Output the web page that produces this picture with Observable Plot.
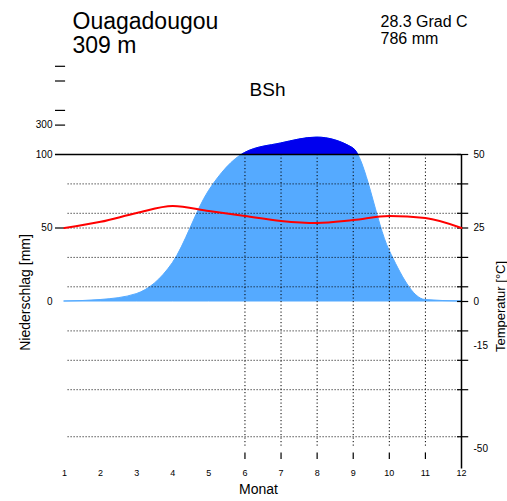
<!DOCTYPE html>
<html><head><meta charset="utf-8">
<script src="https://cdn.jsdelivr.net/npm/d3@7"></script>
<script src="https://cdn.jsdelivr.net/npm/@observablehq/plot@0.6"></script>
<style>body{margin:0;background:#fff}</style>
</head><body><div id="chart"></div>
<script>
const station = "Ouagadougou";
const elevation = "309 m";
const climateClass = "BSh";
const annualTemp = "28.3 Grad C";
const annualPrecip = "786 mm";
const xTitle = "Monat";
const yTitleLeft = "Niederschlag [mm]";
const yTitleRight = "Temperatur [°C]";
const months = [1, 2, 3, 4, 5, 6, 7, 8, 9, 10, 11, 12];
const precip = [0, 1, 5, 26, 75, 110, 175, 215, 142, 35, 1, 0];
const temp = [25.0, 27.1, 30.1, 32.5, 30.8, 29.1, 27.4, 26.7, 27.7, 29.1, 28.4, 25.0];
const precipTicks = [50, 300, 400, 600, 700];
const precipLabels = [0, 50, 100, 300];
const tempTicks = [50, 40, 30, 25, 15, 5, 0, -10, -20, -30, -46];
const tempLabels = [50, 25, 0, -15, -50];
const gridTemps = [40, 30, 25, 15, 5, -10, -20, -30, -46];
const gridMonths = [6, 7, 8, 9, 10, 11];

// Walter-Lieth display: precip above 100 mm compressed 1:10, 10 °C = 20 mm
const dispP = p => p <= 100 ? p : 100 + (p - 100) / 10;
const dispT = t => 2 * t;

const data = months.map((m, i) => ({m, p: precip[i], t: temp[i]}));
const font = "Liberation Sans, Arial, sans-serif";

const chart = Plot.plot({
  width: 507, height: 501,
  marginTop: 0, marginRight: 0, marginBottom: 0, marginLeft: 0,
  style: {fontFamily: font, background: "#fff", overflow: "visible"},
  x: {domain: [1, 12], range: [64, 461], axis: null},
  y: {domain: [0, 100], range: [301, 154], axis: null},
  marks: [
    Plot.areaY(data, {x: "m", y: d => dispP(d.p), fill: "#55aaff", stroke: "#55aaff", strokeWidth: 1, curve: "monotone-x"}),
    Plot.areaY(data, {x: "m", y: d => dispP(d.p), fill: "#0000ee", stroke: "#0000ee", strokeWidth: 1, curve: "monotone-x"}),
    Plot.ruleY(gridTemps, {y: dispT, x1: 1.1, x2: 12, stroke: "#000", strokeWidth: 1, strokeDasharray: "1,2"}),
    Plot.ruleX(gridMonths, {x: d => d, y1: 100, y2: -100, stroke: "#000", strokeWidth: 1, strokeDasharray: "1.2,2.3"}),
    Plot.ruleX(gridMonths, {x: d => d, y1: -103, y2: -107.5, stroke: "#000", strokeWidth: 1.2}),
    Plot.ruleY([100], {y: d => d, x1: 0.75, x2: 12, stroke: "#000", strokeWidth: 1.5}),
    Plot.ruleX([12], {x: d => d, y1: 100, y2: -114, stroke: "#000", strokeWidth: 1.5}),
    Plot.ruleY(tempTicks, {y: dispT, x1: 11.89, x2: 12.2, stroke: "#000", strokeWidth: 1.2}),
    Plot.ruleY(precipTicks, {y: dispP, x1: 0.75, x2: 1.03, stroke: "#000", strokeWidth: 1.2}),
    Plot.text(precipLabels, {x: 0.75, y: dispP, text: d => String(d), textAnchor: "end", dx: -3, fontSize: 10, fill: "#000"}),
    Plot.text(tempLabels, {x: 12, y: dispT, text: d => String(d), textAnchor: "start", dx: 12, fontSize: 10, fill: "#000"}),
    Plot.text(months, {x: d => d, y: -116.5, text: d => String(d), fontSize: 9, fill: "#000"}),
    Plot.line(data, {x: "m", y: d => dispT(d.t), stroke: "#ff0000", strokeWidth: 2, curve: "monotone-x"}),
    Plot.text([station], {frameAnchor: "top-left", dx: 72, dy: 12, lineAnchor: "top", textAnchor: "start", fontSize: 23, fill: "#000"}),
    Plot.text([elevation], {frameAnchor: "top-left", dx: 72, dy: 36, lineAnchor: "top", textAnchor: "start", fontSize: 23, fill: "#000"}),
    Plot.text([annualTemp], {frameAnchor: "top-left", dx: 380, dy: 15, lineAnchor: "top", textAnchor: "start", fontSize: 16, fill: "#000"}),
    Plot.text([annualPrecip], {frameAnchor: "top-left", dx: 380, dy: 32, lineAnchor: "top", textAnchor: "start", fontSize: 16, fill: "#000"}),
    Plot.text([climateClass], {frameAnchor: "top-left", dx: 267, dy: 82, lineAnchor: "top", textAnchor: "middle", fontSize: 19, fill: "#000"}),
    Plot.text([xTitle], {frameAnchor: "top-left", dx: 258, dy: 484, lineAnchor: "top", textAnchor: "middle", fontSize: 14, fill: "#000"}),
    Plot.text([yTitleLeft], {frameAnchor: "top-left", dx: 20, dy: 292, rotate: -90, textAnchor: "middle", fontSize: 14, fill: "#000"}),
    Plot.text([yTitleRight], {frameAnchor: "top-left", dx: 495, dy: 306, rotate: -90, textAnchor: "middle", fontSize: 13, fill: "#000"})
  ]
});

// show the dark-blue part only above the 100 mm line
const svg = d3.select(chart);
const yTop = chart.scale("y").apply(100);
svg.insert("defs", ":first-child").append("clipPath").attr("id", "above100")
  .append("rect").attr("x", 0).attr("y", -10).attr("width", 507).attr("height", yTop + 10);
svg.selectAll('g[aria-label="area"]').filter((d, i) => i === 1).attr("clip-path", "url(#above100)");

document.getElementById("chart").appendChild(chart);
</script>
</body></html>
